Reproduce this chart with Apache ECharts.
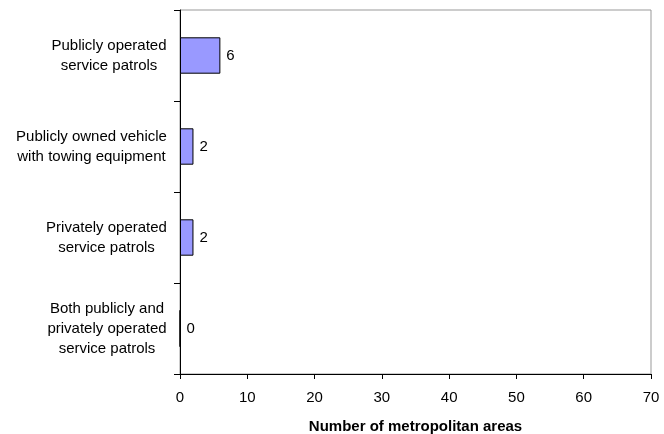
<!DOCTYPE html>
<html><head><meta charset="utf-8">
<script src="https://cdn.jsdelivr.net/npm/echarts@6/dist/echarts.min.js"></script>
<style>html,body{margin:0;padding:0;background:#fff}#c{width:664px;height:434px}</style>
</head><body><div id="c"></div>
<script>
const categories = [
  "Publicly operated\nservice patrols",
  "Publicly owned vehicle\nwith towing equipment",
  "Privately operated\nservice patrols",
  "Both publicly and\nprivately operated\nservice patrols"
];
const values = [6, 2, 2, 0];
const xTicks = [0, 10, 20, 30, 40, 50, 60, 70];
const xTitle = "Number of metropolitan areas";

const font = 'Liberation Sans, Arial, sans-serif';
const fs = 15;
// measure each label's longest line so lines can be centred inside a right-aligned block
const ctx = document.createElement('canvas').getContext('2d');
ctx.font = fs + 'px ' + font;
const rich = {};
categories.forEach((c, i) => {
  const w = Math.max(...c.split('\n').map(l => ctx.measureText(l).width));
  rich['r' + i] = {width: Math.ceil(w), align: 'center', fontSize: fs, fontFamily: font, color: '#000', lineHeight: 20};
});

const chart = echarts.init(document.getElementById('c'), null, {renderer: 'canvas'});
chart.setOption({
  animation: false,
  grid: [{left: 180, top: 10, right: 13, bottom: 60, outerBoundsMode: 'none', containLabel: false,
    show: true, borderColor: '#999', borderWidth: 1, backgroundColor: 'transparent'}],
  xAxis: {
    type: 'value', min: xTicks[0], max: xTicks[xTicks.length-1], interval: 10,
    axisLine: {show: true, onZero: false, lineStyle: {color: '#000', width: 1}},
    axisTick: {show: true, length: 5, lineStyle: {color: '#000'}},
    splitLine: {show: false},
    axisLabel: {color: '#000', fontSize: fs, fontFamily: font, margin: 16},
    name: xTitle, nameLocation: 'middle', nameGap: 45,
    nameTextStyle: {color: '#000', fontSize: fs, fontWeight: 'bold', fontFamily: font}
  },
  yAxis: {
    type: 'category', data: categories, inverse: true,
    axisLine: {show: true, lineStyle: {color: '#000', width: 1}},
    axisTick: {show: true, length: 6, alignWithLabel: false, lineStyle: {color: '#000'}},
    axisLabel: {color: '#000', fontSize: fs, fontFamily: font, margin: 13, align: 'right', lineHeight: 20,
      formatter: (v, i) => v.split('\n').map(l => '{r' + i + '|' + l + '}').join('\n'),
      rich: rich},
    splitLine: {show: false}
  },
  series: [{
    type: 'bar', data: values, barWidth: '40%',
    itemStyle: {color: '#9999ff', borderColor: '#000', borderWidth: 1},
    label: {show: true, position: 'right', distance: 6, color: '#000', fontSize: fs, fontFamily: font}
  }]
});
</script></body></html>
